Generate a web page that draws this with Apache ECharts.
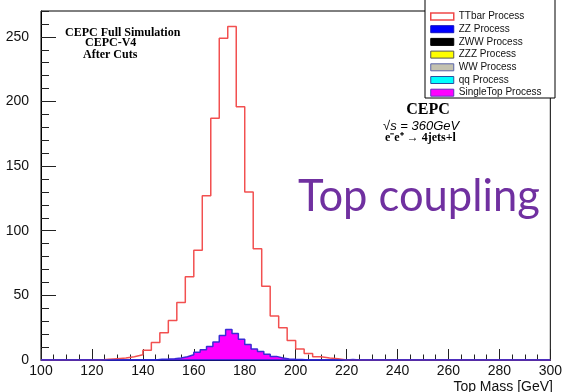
<!DOCTYPE html>
<html><head><meta charset="utf-8">
<script src="https://cdn.jsdelivr.net/npm/echarts@6/dist/echarts.min.js"></script>
<style>html,body{margin:0;padding:0;background:#fff}#c{width:565px;height:392px}</style>
</head><body><div id="c"></div>
<script>
// ---- data ----
const xRange = [100, 300];
const xTickLabels = [100, 120, 140, 160, 180, 200, 220, 240, 260, 280, 300];
const yTickLabels = [0, 50, 100, 150, 200, 250];
const yMax = 270;

// TTbar Process: 60 bins of 3.33 GeV from 100 to 300
const ttbarCounts = [
  0, 0, 0, 0, 0, 0, 0, 0.5, 1, 1.5,
  2.5, 4, 7.5, 13.5, 21, 30.5, 44.5, 64.5, 85, 127,
  187, 249, 258, 196, 130, 86, 57, 34, 25, 15,
  8.5, 5, 2.5, 1.5, 1, 0, 0, 0, 0, 0,
  0, 0, 0, 0, 0, 0, 0, 0, 0, 0,
  0, 0, 0, 0, 0, 0, 0, 0, 0, 0
];
// SingleTop Process: 80 bins of 2.5 GeV from 100 to 300
const singleTopCounts = [
  0, 0, 0, 0, 0, 0, 0, 0, 0, 0,
  0, 0, 0, 0, 0, 0, 0, 0, 0.5, 0.7,
  1, 1.5, 2.5, 4, 6, 8, 10.5, 14, 19, 23.5,
  20.5, 16, 12, 8.5, 6.5, 4.5, 2.8, 1.5, 0.8, 0.5,
  0.3, 0, 0, 0, 0, 0, 0, 0, 0.4, 0,
  0, 0, 0, 0, 0, 0, 0, 0, 0, 0,
  0, 0, 0, 0, 0, 0, 0, 0, 0, 0,
  0, 0, 0, 0, 0, 0, 0, 0, 0, 0
];
// ZZ Process (and other backgrounds): empty
const zzCounts = [
  0, 0, 0, 0, 0, 0, 0, 0, 0, 0,
  0, 0, 0, 0, 0, 0, 0, 0, 0, 0,
  0, 0, 0, 0, 0, 0, 0, 0, 0, 0,
  0, 0, 0, 0, 0, 0, 0, 0, 0, 0
];
const legendNames = ['TTbar Process', 'ZZ Process', 'ZWW Process', 'ZZZ Process', 'WW Process', 'qq Process', 'SingleTop Process'];

// ---- build ----
function stepData(counts) {
  const w = (xRange[1] - xRange[0]) / counts.length;
  const d = counts.map((v, i) => [xRange[0] + i * w, v]);
  d.push([xRange[1], counts[counts.length - 1]]);
  return d;
}

const SANS = 'Liberation Sans, Arial, sans-serif';
const SERIF = 'Liberation Serif, Times New Roman, serif';
const chart = echarts.init(document.getElementById('c'), null, {renderer: 'canvas'});

const legendStyles = [
  {color: '#ffffff', borderColor: '#f04848', borderWidth: 1.5},
  {color: '#0000ff', borderColor: '#1010c0', borderWidth: 1},
  {color: '#000000', borderColor: '#000000', borderWidth: 1},
  {color: '#ffff00', borderColor: '#555555', borderWidth: 1},
  {color: '#c4c2b0', borderColor: '#5a64a8', borderWidth: 1},
  {color: '#00ffff', borderColor: '#2a50a0', borderWidth: 1},
  {color: '#ff00ff', borderColor: '#6030c0', borderWidth: 1}
];

chart.setOption({
  animation: false,
  backgroundColor: '#fff',
  grid: {left: 41, right: 12, top: 11, bottom: 32, show: true, borderColor: '#000', borderWidth: 1, z: 0},
  xAxis: {
    type: 'value', min: xRange[0], max: xRange[1], interval: 20,
    axisLine: {show: true, lineStyle: {color: '#000', width: 1}},
    axisTick: {show: true, inside: true, length: 11, lineStyle: {color: '#222', width: 1}},
    minorTick: {show: true, splitNumber: 4, length: 5.5, lineStyle: {color: '#222', width: 1}},
    axisLabel: {margin: 4, fontSize: 14, color: '#111', fontFamily: SANS,
      customValues: xTickLabels},
    splitLine: {show: false}
  },
  yAxis: [{
    type: 'value', min: 0, max: yMax,
    axisLine: {show: true, lineStyle: {color: '#000', width: 1}},
    axisTick: {show: true, inside: true, length: 15, lineStyle: {color: '#222', width: 1}, customValues: yTickLabels},
    axisLabel: {margin: 12, fontSize: 14, color: '#111', fontFamily: SANS, customValues: yTickLabels},
    splitLine: {show: false}
  }, {
    type: 'value', min: 0, max: yMax, interval: 10, position: 'left',
    axisLine: {show: false},
    axisTick: {show: true, inside: true, length: 8, lineStyle: {color: '#222', width: 1}},
    axisLabel: {show: false},
    splitLine: {show: false}
  }],
  legend: {
    orient: 'vertical', left: 430, top: 10.5, itemWidth: 23, itemHeight: 7, itemGap: 0.7,
    padding: 0, icon: 'rect', z: 10,
    textStyle: {fontSize: 10, lineHeight: 12, color: '#111', fontFamily: SANS, padding: [0, 0, 0, 0]},
    data: legendNames.map((n, i) => ({name: n, icon: 'rect', itemStyle: legendStyles[i]}))
  },
  graphic: [
    {type: 'rect', z: 8, shape: {x: 425, y: -5, width: 130, height: 103}, style: {fill: '#fff', stroke: '#000', lineWidth: 1}},
    {type: 'text', z: 9, style: {x: 65, y: 33, text: 'CEPC Full Simulation', font: 'bold 12px ' + SERIF, fill: '#000', verticalAlign: 'middle'}},
    {type: 'text', z: 9, style: {x: 85, y: 43, text: 'CEPC-V4', font: 'bold 12px ' + SERIF, fill: '#000', verticalAlign: 'middle'}},
    {type: 'text', z: 9, style: {x: 83, y: 54.5, text: 'After Cuts', font: 'bold 12px ' + SERIF, fill: '#000', verticalAlign: 'middle'}},
    {type: 'text', z: 9, style: {x: 428, y: 110, text: 'CEPC', font: 'bold 16px ' + SERIF, fill: '#000', align: 'center', verticalAlign: 'middle'}},
    {type: 'text', z: 9, style: {x: 383, y: 126, text: '\u221As = 360GeV', font: 'italic 13px ' + SANS, fill: '#000', verticalAlign: 'middle'}},
    {type: 'text', z: 9, style: {x: 385, y: 137.5, text: 'e\u207Be\u207A \u2192 4jets+l', font: 'bold 12px ' + SERIF, fill: '#000', verticalAlign: 'middle'}},
    {type: 'text', z: 9, style: {x: 298, y: 197, text: 'Top coupling', font: '43.5px Lato, sans-serif', fill: '#7030a0', verticalAlign: 'middle'}},
    {type: 'text', z: 9, style: {x: 553, y: 387, text: 'Top Mass [GeV]', font: '14px ' + SANS, fill: '#111', align: 'right', verticalAlign: 'middle'}}
  ],
  series: [
    {name: 'SingleTop Process', type: 'line', step: 'end', data: stepData(singleTopCounts), symbol: 'none', z: 3,
      lineStyle: {color: '#3b2bd6', width: 1.5}, itemStyle: {color: '#ff00ff'}, areaStyle: {color: '#ff00ff', opacity: 1}},
    {name: 'TTbar Process', type: 'line', step: 'end', data: stepData(ttbarCounts), symbol: 'none', z: 4,
      lineStyle: {color: '#f25050', width: 1.5}, itemStyle: {color: '#f25050'}},
    {name: 'ZZ Process', type: 'line', step: 'end', data: stepData(zzCounts), symbol: 'none', z: 5,
      lineStyle: {color: '#2424d8', width: 1.5}, itemStyle: {color: '#0000ff'}},
    {name: 'ZWW Process', type: 'line', data: [], itemStyle: {color: '#000'}},
    {name: 'ZZZ Process', type: 'line', data: [], itemStyle: {color: '#ffff00'}},
    {name: 'WW Process', type: 'line', data: [], itemStyle: {color: '#c4c2b0'}},
    {name: 'qq Process', type: 'line', data: [], itemStyle: {color: '#00ffff'}}
  ]
});
</script>
</body></html>
